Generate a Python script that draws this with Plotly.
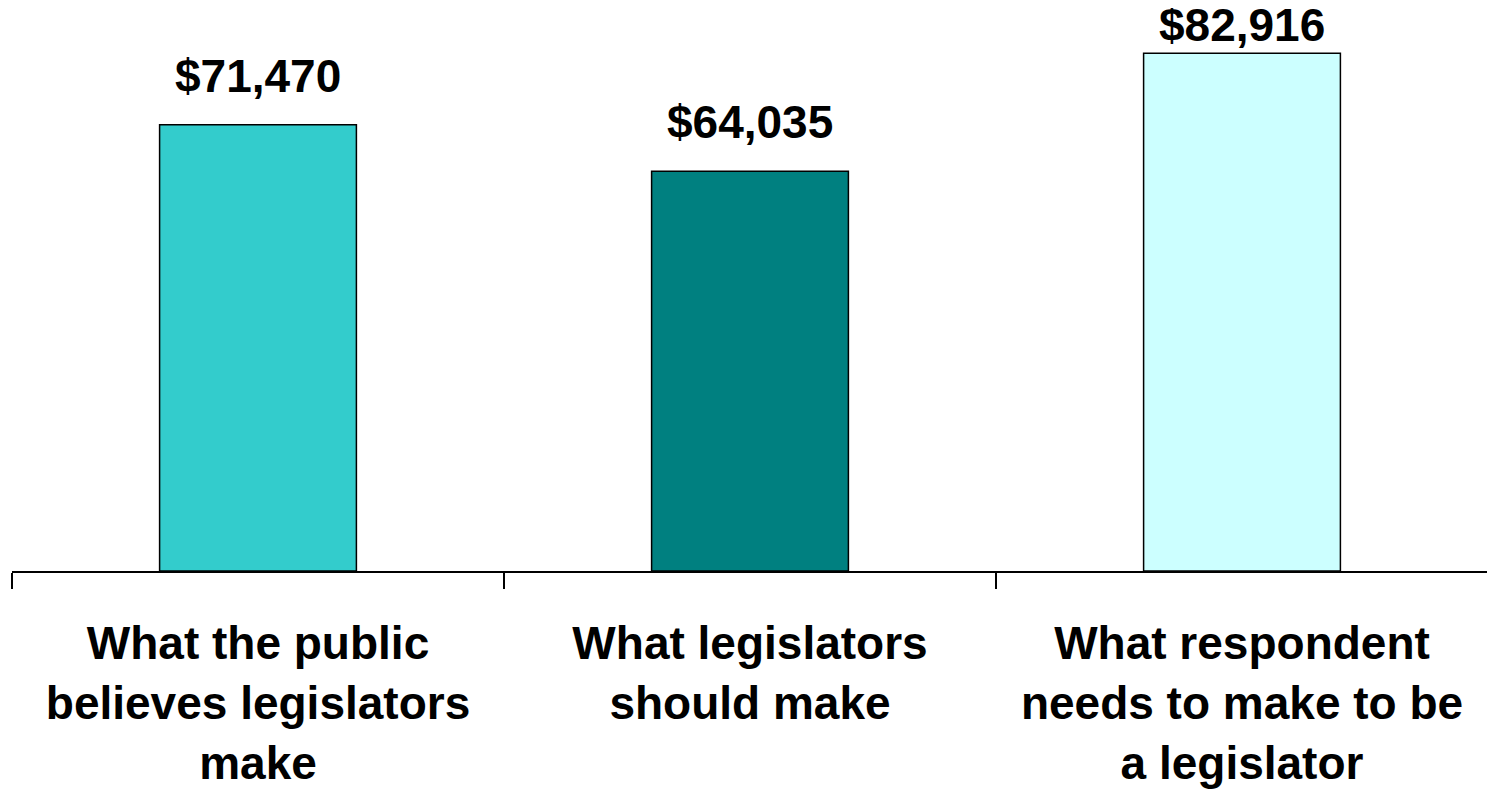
import plotly.graph_objects as go

categories = [
    "What the public<br>believes legislators<br>make",
    "What legislators<br>should make",
    "What respondent<br>needs to make to be<br>a legislator",
]
values = [71470, 64035, 82916]
value_labels = ["$71,470", "$64,035", "$82,916"]
bar_colors = ["#33CCCC", "#008080", "#CCFFFF"]
label_shifts = [21, 21, 0]

FONT = "Liberation Sans, Arial, sans-serif"

fig = go.Figure()
fig.add_trace(go.Bar(
    x=categories,
    y=values,
    width=0.4,
    marker=dict(color=bar_colors, line=dict(color="black", width=1.5)),
    hoverinfo="skip",
))

for c, v, t, s in zip(categories, values, value_labels, label_shifts):
    fig.add_annotation(
        x=c, y=v, text=t, showarrow=False, yanchor="bottom", yshift=s,
        font=dict(family=FONT, size=46, color="black", weight="bold"),
    )

fig.update_layout(
    width=1487, height=784,
    margin=dict(l=4, r=7, t=1, b=221),
    paper_bgcolor="white", plot_bgcolor="white",
    showlegend=False,
    font=dict(family=FONT, size=46, color="black"),
    xaxis=dict(
        type="category",
        range=[-0.5, 2.5],
        showline=True, linecolor="black", linewidth=2,
        ticks="outside", tickson="boundaries", ticklen=16, tickwidth=2, tickcolor="black",
        ticklabelstandoff=31,
        tickfont=dict(family=FONT, size=46, color="black", weight="bold"),
        showgrid=False, zeroline=False,
    ),
    yaxis=dict(
        range=[0, 90000], visible=False, showgrid=False, zeroline=False,
    ),
)

fig.write_html("out.html")
